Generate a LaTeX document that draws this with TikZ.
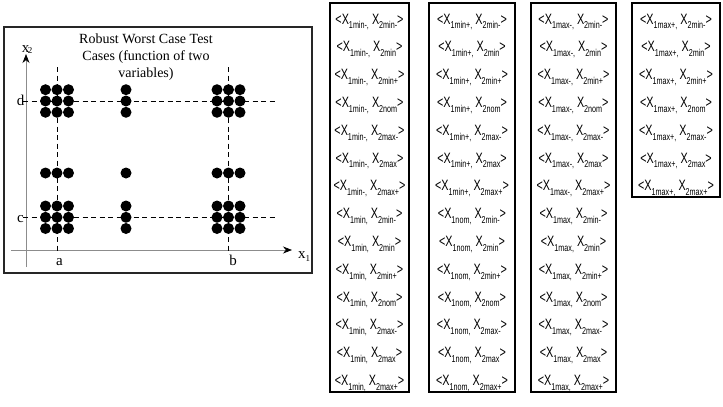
\documentclass[tikz,border=0pt]{standalone}
\usepackage{fontspec}
\setmainfont{Liberation Serif}
\newfontfamily\labfont[FakeStretch=0.72]{Liberation Sans}
\usetikzlibrary{arrows.meta}
\newcommand\sbx[1]{\raisebox{-4.8pt}{\fontsize{10}{10}\selectfont #1}}
\newcommand\entry[2]{<X\sbx{#1,}\ X\sbx{#2}>}
\tikzset{
  panel/.style={draw=black!85, line width=1.1pt},
  colbox/.style={draw=black, line width=2pt},
  axisline/.style={draw=black!45, line width=0.7pt},
  grid dash/.style={draw=black, line width=1pt, dash pattern=on 5pt off 3.5pt},
  dotmark/.style={circle, fill=black, inner sep=0pt, minimum size=11pt},
  ent/.style={font=\labfont\fontsize{15}{15}\selectfont, inner sep=0pt, anchor=base},
  lbl/.style={font=\fontsize{15}{15}\selectfont, inner sep=0pt, anchor=base},
  title/.style={font=\fontsize{14}{17}\selectfont, align=center, inner sep=0pt}
}
\begin{document}
\begin{tikzpicture}[x=1pt,y=-1pt]
\useasboundingbox (0,0) rectangle (723,407);
% left panel
\draw[panel] (4,27) rectangle (312,273);
\node[title] (title) at (146,57) {Robust Worst Case Test\\Cases (function of two\\variables)};
% axes
\coordinate (xs) at (11,250); \coordinate (xe) at (292,250);
\coordinate (ys) at (26,267); \coordinate (ye) at (26,54);
\draw[axisline,-{Stealth[black,length=9pt,width=7pt]}] (xs) -- (xe);
\draw[axisline,-{Stealth[black,length=9pt,width=7pt]}] (ys) -- (ye);
\node[lbl] (x1) at (304,258) {x\raisebox{-3pt}{\fontsize{9}{9}\selectfont 1}};
\node[lbl] (x2) at (27,52) {x\kern-1.5pt\raisebox{-1pt}{\fontsize{9}{9}\selectfont 2}};
% dashed grid lines
\coordinate (at) at (57,67);   \coordinate (ab) at (57,252);
\coordinate (bt) at (228.5,67); \coordinate (bb) at (228.5,252);
\coordinate (dl) at (23,101);  \coordinate (dr) at (275,101);
\coordinate (cl) at (23,217.3); \coordinate (cr) at (275,217.3);
\draw[grid dash] (at) -- (ab);
\draw[grid dash] (bt) -- (bb);
\draw[grid dash] (dl) -- (dr);
\draw[grid dash] (cl) -- (cr);
\node[lbl] (la) at (59.5,265) {a};
\node[lbl] (lb) at (233,265) {b};
\node[lbl] (ld) at (20.5,105) {d};
\node[lbl] (lc) at (20.5,222) {c};
% test points
\foreach \x [count=\i] in {45.5,57,68.5,126,217,228.5,240}
  \foreach \y [count=\j] in {228.5,217.3,206,173,112.3,101,89.7}
    \node[dotmark] (p\i\j) at (\x,\y) {};
% columns of test cases
\draw[colbox] (330,3) rectangle (409,392);
\draw[colbox] (429,3) rectangle (515,392);
\draw[colbox] (531,3) rectangle (616,392);
\draw[colbox] (632,3) rectangle (720,197);
\foreach \cx/\a/\b/\n in {369.5/min-/min/ca, 472/min+/nom/cb, 573.5/max-/max/cc} {
  \foreach \s [count=\i] in {min-,min,min+,nom,max-,max,max+} {
    \node[ent] (\n\i) at (\cx,{24+27.8*(\i-1)}) {\entry{1\a}{2\s}};
    \node[ent] (\n b\i) at (\cx,{24+27.8*(\i+6)}) {\entry{1\b}{2\s}};
  }
}
\foreach \s [count=\i] in {min-,min,min+,nom,max-,max,max+}
  \node[ent] (cd\i) at (676,{24+27.8*(\i-1)}) {\entry{1max+}{2\s}};
\end{tikzpicture}
\end{document}
